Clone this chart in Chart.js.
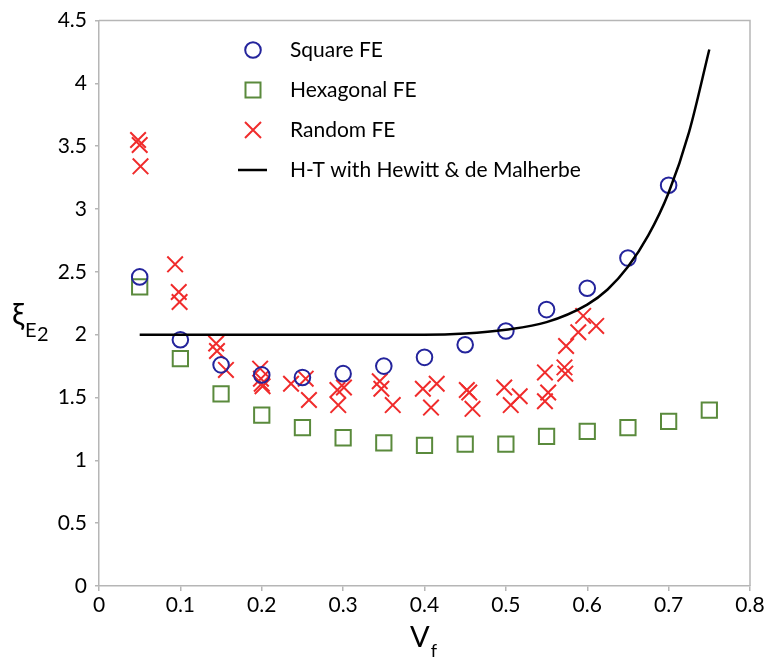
<!DOCTYPE html>
<html>
<head>
<meta charset="utf-8">
<script src="https://cdn.jsdelivr.net/npm/chart.js@4.4.0/dist/chart.umd.min.js"></script>
<style>
html,body{margin:0;padding:0;background:#fff;}
canvas{display:block;}
</style>
</head>
<body>
<canvas id="c" width="771" height="661"></canvas>
<script>
// ---- data ----
const squareX = [0.05,0.10,0.15,0.20,0.25,0.30,0.35,0.40,0.45,0.50,0.55,0.60,0.65,0.70];
const squareY = [2.46,1.96,1.76,1.68,1.66,1.69,1.75,1.82,1.92,2.03,2.20,2.37,2.61,3.19];

const hexX = [0.05,0.10,0.15,0.20,0.25,0.30,0.35,0.40,0.45,0.50,0.55,0.60,0.65,0.70,0.75];
const hexY = [2.38,1.81,1.53,1.36,1.26,1.18,1.14,1.12,1.13,1.13,1.19,1.23,1.26,1.31,1.40];

const randX = [0.048,0.050,0.051, 0.0935,0.098,0.099, 0.144,0.145,0.156,
               0.198,0.199,0.200,0.201, 0.236,0.254,0.258, 0.293,0.301,0.294,
               0.345,0.347,0.361, 0.398,0.415,0.408, 0.452,0.455,0.459,
               0.498,0.517,0.506, 0.548,0.552,0.548, 0.572,0.573,0.574,
               0.589,0.595,0.611];
const randY = [3.55,3.51,3.34, 2.56,2.34,2.26, 1.93,1.87,1.72,
               1.73,1.65,1.61,1.59, 1.61,1.65,1.48, 1.56,1.58,1.44,
               1.63,1.57,1.44, 1.57,1.61,1.42, 1.56,1.54,1.41,
               1.58,1.51,1.44, 1.70,1.54,1.47, 1.74,1.69,1.91,
               2.02,2.15,2.07];

const htX = [0.05,0.10,0.15,0.20,0.25,0.30,0.35,0.40,0.45,0.50,0.55,0.60,0.625,0.65,0.675,0.70,0.725,0.75];
const htY = [2.00,2.00,2.00,2.00,2.00,2.00,2.00,2.00,2.01,2.04,2.10,2.24,2.36,2.54,2.79,3.13,3.61,4.27];

const seriesNames = ['Square FE','Hexagonal FE','Random FE','H-T with Hewitt & de Malherbe'];
const xTicks = [0,0.1,0.2,0.3,0.4,0.5,0.6,0.7,0.8];
const yTicks = [0,0.5,1,1.5,2,2.5,3,3.5,4,4.5];

// ---- styles ----
const BLUE = '#24249c', GREEN = '#5a8a3c', RED = '#f02c2c', GREY = '#b6b6b6';
const FONT = 'Lato, "Open Sans", sans-serif';

function pts(xs, ys){ return xs.map((x,i)=>({x:x, y:ys[i]})); }

const frame = {
  id:'frame',
  afterDraw(chart){
    const {ctx, chartArea:a} = chart;
    ctx.save();
    ctx.strokeStyle = GREY; ctx.lineWidth = 1.5;
    ctx.beginPath();
    ctx.moveTo(a.left, a.top); ctx.lineTo(a.right, a.top); ctx.lineTo(a.right, a.bottom);
    ctx.stroke();
    ctx.restore();
  }
};

const titles = {
  id:'titles',
  afterDraw(chart){
    const ctx = chart.ctx;
    ctx.save();
    ctx.fillStyle = '#000';
    ctx.textBaseline = 'alphabetic';
    ctx.textAlign = 'left';
    // y title: ξ_{E_2}
    ctx.font = '31px ' + FONT;
    ctx.fillText('ξ', 12, 325);
    ctx.font = '20px ' + FONT;
    ctx.fillText('E', 25, 337);
    ctx.fillText('2', 37, 341);
    // x title: V_f
    ctx.font = '29px ' + FONT;
    ctx.fillText('V', 410, 647);
    const w = ctx.measureText('V').width;
    ctx.font = '18px ' + FONT;
    ctx.fillText('f', 410 + w + 1, 657);
    ctx.restore();
  }
};

const legendPlugin = {
  id:'customLegend',
  afterDraw(chart){
    const ctx = chart.ctx;
    const mx = 253, tx = 290;
    const rows = [50, 90, 130, 170];
    ctx.save();
    ctx.strokeStyle = BLUE; ctx.lineWidth = 2;
    ctx.beginPath(); ctx.arc(mx, rows[0], 7.8, 0, Math.PI*2); ctx.stroke();
    ctx.strokeStyle = GREEN; ctx.lineWidth = 2;
    ctx.strokeRect(mx-7.5, rows[1]-7.5, 15, 15);
    ctx.strokeStyle = RED; ctx.lineWidth = 2;
    ctx.beginPath();
    ctx.moveTo(mx-8, rows[2]-8); ctx.lineTo(mx+8, rows[2]+8);
    ctx.moveTo(mx+8, rows[2]-8); ctx.lineTo(mx-8, rows[2]+8);
    ctx.stroke();
    ctx.strokeStyle = '#000'; ctx.lineWidth = 2.5;
    ctx.beginPath(); ctx.moveTo(238, rows[3]); ctx.lineTo(267, rows[3]); ctx.stroke();
    ctx.fillStyle = '#000';
    ctx.font = '21px ' + FONT;
    ctx.textBaseline = 'middle';
    ctx.textAlign = 'left';
    seriesNames.forEach((n,i)=> ctx.fillText(n, tx, rows[i]));
    ctx.restore();
  }
};

new Chart(document.getElementById('c'), {
  type:'scatter',
  data:{
    datasets:[
      {label:seriesNames[3], data:pts(htX, htY), showLine:true, borderColor:'#000', borderWidth:2.5,
       pointRadius:0, pointHoverRadius:0, cubicInterpolationMode:'monotone', fill:false, order:0},
      {label:seriesNames[1], data:pts(hexX, hexY), pointStyle:'rect', pointRadius:10.8,
       borderColor:GREEN, backgroundColor:'rgba(0,0,0,0)', pointBorderWidth:2, order:3},
      {label:seriesNames[2], data:pts(randX, randY), pointStyle:'crossRot', pointRadius:11,
       borderColor:RED, backgroundColor:RED, pointBorderWidth:2, order:2},
      {label:seriesNames[0], data:pts(squareX, squareY), pointStyle:'circle', pointRadius:7.8,
       borderColor:BLUE, backgroundColor:'rgba(0,0,0,0)', pointBorderWidth:2, order:1}
    ]
  },
  options:{
    responsive:false,
    animation:false,
    devicePixelRatio:1,
    layout:{padding:{left:0, right:21, top:17, bottom:0}},
    plugins:{legend:{display:false}, tooltip:{enabled:false}},
    scales:{
      x:{
        type:'linear', min:0, max:0.8,
        afterBuildTicks(s){ s.ticks = xTicks.map(v=>({value:v})); },
        afterFit(s){ s.height = 75; },
        grid:{drawOnChartArea:false, drawTicks:true, tickLength:5, color:GREY, lineWidth:1.5},
        border:{color:GREY, width:1.5},
        ticks:{color:'#000', font:{family:FONT, size:21}, padding:2, maxRotation:0,
               callback:(v)=>String(v)}
      },
      y:{
        type:'linear', min:0, max:4.5,
        afterBuildTicks(s){ s.ticks = yTicks.map(v=>({value:v})); },
        afterFit(s){ s.width = 99; },
        grid:{drawOnChartArea:false, drawTicks:true, tickLength:4, color:GREY, lineWidth:1.5},
        border:{color:GREY, width:1.5},
        ticks:{color:'#000', font:{family:FONT, size:21}, padding:8,
               callback:(v)=>String(v)}
      }
    }
  },
  plugins:[frame, titles, legendPlugin]
});
</script>
</body>
</html>
